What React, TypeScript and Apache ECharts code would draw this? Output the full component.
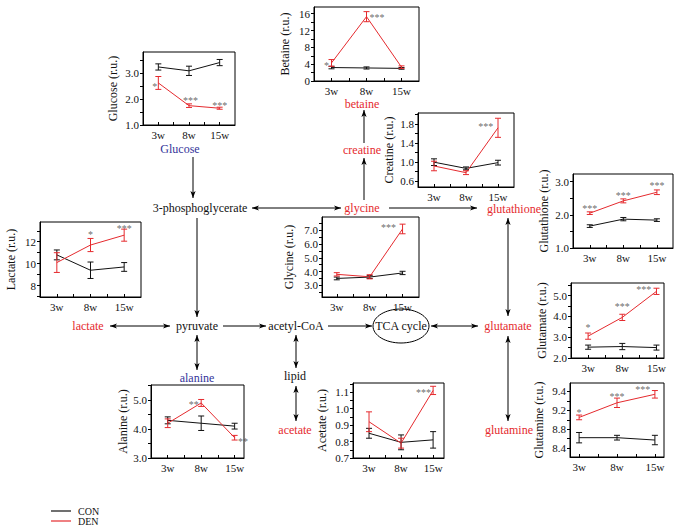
import { useEffect, useRef } from "react";
import * as echarts from "echarts";

const weeks = ["3w", "8w", "15w"];

// Glucose
const glucoseCon = [3.25, 3.1, 3.42];
const glucoseConErr = [0.12, 0.18, 0.12];
const glucoseDen = [2.63, 1.75, 1.65];
const glucoseDenErr = [0.25, 0.07, 0.04];
const glucoseStars: [number, number, string][] = [[-0.12, 2.62, "*"], [1.05, 2.05, "***"], [2.0, 1.88, "***"]];
const glucoseTicks = [1.0, 2.0, 3.0];
const glucoseTickLabels = ["1.0", "2.0", "3.0"];

// Betaine
const betaineCon = [3.2, 3.1, 3.0];
const betaineConErr = [0.3, 0.25, 0.2];
const betaineDen = [4.3, 15.3, 3.3];
const betaineDenErr = [0.8, 1.2, 0.3];
const betaineStars: [number, number, string][] = [[-0.14, 4.4, "*"], [1.3, 15.9, "***"]];
const betaineTicks = [0, 4, 8, 12, 16];
const betaineTickLabels = ["0", "4", "8", "12", "16"];

// Creatine
const creatineCon = [1.0, 0.87, 0.99];
const creatineConErr = [0.07, 0.03, 0.05];
const creatineDen = [0.92, 0.78, 1.72];
const creatineDenErr = [0.1, 0.04, 0.2];
const creatineStars: [number, number, string][] = [[1.62, 1.8, "***"]];
const creatineTicks = [0.6, 1.0, 1.4, 1.8];
const creatineTickLabels = ["0.6", "1.0", "1.4", "1.8"];

// Glutathione
const glutathioneCon = [1.66, 1.87, 1.84];
const glutathioneConErr = [0.04, 0.05, 0.04];
const glutathioneDen = [2.05, 2.42, 2.68];
const glutathioneDenErr = [0.04, 0.06, 0.07];
const glutathioneStars: [number, number, string][] = [[0, 2.28, "***"], [1, 2.68, "***"], [2, 2.96, "***"]];
const glutathioneTicks = [1.0, 2.0, 3.0];
const glutathioneTickLabels = ["1.0", "2.0", "3.0"];

// Lactate
const lactateCon = [10.8, 9.4, 9.7];
const lactateConErr = [0.45, 0.75, 0.4];
const lactateDen = [10.1, 11.7, 12.6];
const lactateDenErr = [0.9, 0.6, 0.55];
const lactateStars: [number, number, string][] = [[1, 12.9, "*"], [2, 13.45, "***"]];
const lactateTicks = [8, 10, 12];
const lactateTickLabels = ["8", "10", "12"];

// Glycine
const glycineCon = [3.5, 3.6, 3.9];
const glycineConErr = [0.1, 0.1, 0.12];
const glycineDen = [3.8, 3.62, 7.1];
const glycineDenErr = [0.12, 0.15, 0.35];
const glycineStars: [number, number, string][] = [[1.57, 7.4, "***"]];
const glycineTicks = [3.0, 4.0, 5.0, 6.0, 7.0];
const glycineTickLabels = ["3.0", "4.0", "5.0", "6.0", "7.0"];

// Glutamate
const glutamateCon = [2.52, 2.55, 2.5];
const glutamateConErr = [0.1, 0.15, 0.12];
const glutamateDen = [3.05, 3.95, 5.2];
const glutamateDenErr = [0.15, 0.15, 0.15];
const glutamateStars: [number, number, string][] = [[0, 3.62, "*"], [1, 4.62, "***"], [1.63, 5.42, "***"]];
const glutamateTicks = [2.0, 3.0, 4.0, 5.0];
const glutamateTickLabels = ["2.0", "3.0", "4.0", "5.0"];

// Glutamine
const glutamineCon = [8.62, 8.62, 8.57];
const glutamineConErr = [0.11, 0.05, 0.1];
const glutamineDen = [9.05, 9.36, 9.54];
const glutamineDenErr = [0.05, 0.1, 0.08];
const glutamineStars: [number, number, string][] = [[0, 9.22, "*"], [1, 9.56, "***"], [1.68, 9.7, "***"]];
const glutamineTicks = [8.4, 8.8, 9.2, 9.6];
const glutamineTickLabels = ["8.4", "8.8", "9.2", "9.4"];

// Alanine
const alanineCon = [4.3, 4.2, 4.1];
const alanineConErr = [0.12, 0.25, 0.1];
const alanineDen = [4.2, 4.9, 3.7];
const alanineDenErr = [0.15, 0.12, 0.08];
const alanineStars: [number, number, string][] = [[0.78, 4.95, "**"], [2.25, 3.68, "**"]];
const alanineTicks = [3.0, 4.0, 5.0];
const alanineTickLabels = ["3.0", "4.0", "5.0"];

// Acetate
const acetateCon = [0.85, 0.795, 0.81];
const acetateConErr = [0.03, 0.045, 0.05];
const acetateDen = [0.92, 0.79, 1.11];
const acetateDenErr = [0.06, 0.03, 0.025];
const acetateStars: [number, number, string][] = [[1.7, 1.115, "***"]];
const acetateTicks = [0.7, 0.8, 0.9, 1.0, 1.1];
const acetateTickLabels = ["0.7", "0.8", "0.9", "1.0", "1.1"];

const legendNames = ["CON", "DEN"];

const FONT = '"Liberation Serif", "Times New Roman", serif';
const RED = "#e52a2e";
const BLUE = "#34349a";
const BLACK = "#111";

type Spec = {
  name: string;
  con: number[]; conErr: number[]; den: number[]; denErr: number[];
  stars: [number, number, string][];
  ticks: number[]; tickLabels: string[];
  box: [number, number, number, number];
  xr: [number, number];
  yr: [number, number];
  gap: number;
};

const specs: Spec[] = [
  { name: "Glucose (r.u.)", con: glucoseCon, conErr: glucoseConErr, den: glucoseDen, denErr: glucoseDenErr, stars: glucoseStars, ticks: glucoseTicks, tickLabels: glucoseTickLabels, box: [143, 52, 235, 125], xr: [-0.5, 2.5], yr: [1.0, 3.83], gap: 24 },
  { name: "Betaine (r.u.)", con: betaineCon, conErr: betaineConErr, den: betaineDen, denErr: betaineDenErr, stars: betaineStars, ticks: betaineTicks, tickLabels: betaineTickLabels, box: [314, 7, 419, 81], xr: [-0.5, 2.5], yr: [0, 17.6], gap: 23 },
  { name: "Creatine (r.u.)", con: creatineCon, conErr: creatineConErr, den: creatineDen, denErr: creatineDenErr, stars: creatineStars, ticks: creatineTicks, tickLabels: creatineTickLabels, box: [418, 113, 514, 187], xr: [-0.5, 2.5], yr: [0.48, 2.03], gap: 23 },
  { name: "Glutathione (r.u.)", con: glutathioneCon, conErr: glutathioneConErr, den: glutathioneDen, denErr: glutathioneDenErr, stars: glutathioneStars, ticks: glutathioneTicks, tickLabels: glutathioneTickLabels, box: [573, 174, 673, 248], xr: [-0.5, 2.48], yr: [1.0, 3.23], gap: 23 },
  { name: "Lactate (r.u.)", con: lactateCon, conErr: lactateConErr, den: lactateDen, denErr: lactateDenErr, stars: lactateStars, ticks: lactateTicks, tickLabels: lactateTickLabels, box: [40, 222, 141, 297], xr: [-0.5, 2.5], yr: [6.96, 13.8], gap: 23 },
  { name: "Glycine (r.u.)", con: glycineCon, conErr: glycineConErr, den: glycineDen, denErr: glycineDenErr, stars: glycineStars, ticks: glycineTicks, tickLabels: glycineTickLabels, box: [322, 217, 419, 297], xr: [-0.45, 2.5], yr: [2.15, 7.97], gap: 27 },
  { name: "Glutamate (r.u.)", con: glutamateCon, conErr: glutamateConErr, den: glutamateDen, denErr: glutamateDenErr, stars: glutamateStars, ticks: glutamateTicks, tickLabels: glutamateTickLabels, box: [571, 283, 664, 358], xr: [-0.5, 2.22], yr: [2.0, 5.6], gap: 23 },
  { name: "Glutamine (r.u.)", con: glutamineCon, conErr: glutamineConErr, den: glutamineDen, denErr: glutamineDenErr, stars: glutamineStars, ticks: glutamineTicks, tickLabels: glutamineTickLabels, box: [570, 383, 664, 457], xr: [-0.24, 2.24], yr: [8.21, 9.78], gap: 25 },
  { name: "Alanine (r.u.)", con: alanineCon, conErr: alanineConErr, den: alanineDen, denErr: alanineDenErr, stars: alanineStars, ticks: alanineTicks, tickLabels: alanineTickLabels, box: [151, 385, 244, 458], xr: [-0.5, 2.28], yr: [3.0, 5.52], gap: 22 },
  { name: "Acetate (r.u.)", con: acetateCon, conErr: acetateConErr, den: acetateDen, denErr: acetateDenErr, stars: acetateStars, ticks: acetateTicks, tickLabels: acetateTickLabels, box: [353, 383, 444, 458], xr: [-0.5, 2.34], yr: [0.7, 1.155], gap: 25 },
];

function minorTicks(ticks: number[], yr: [number, number]) {
  const out: number[] = [...ticks];
  const step = ticks[1] - ticks[0];
  for (let i = -1; i < ticks.length; i++) {
    const m = ticks[0] + step * (i + 0.5);
    if (m > yr[0] && m < yr[1]) out.push(m);
  }
  return out;
}

function arrowHead(x: number, y: number, dx: number, dy: number) {
  const len = Math.hypot(dx, dy);
  const ux = dx / len, uy = dy / len;
  const px = -uy, py = ux;
  const L = 7, W = 2.6;
  return {
    type: "polygon",
    silent: true,
    shape: {
      points: [
        [x, y],
        [x - ux * L + px * W, y - uy * L + py * W],
        [x - ux * L * 0.75, y - uy * L * 0.75],
        [x - ux * L - px * W, y - uy * L - py * W],
      ],
    },
    style: { fill: "#000" },
  };
}

function arrow(x1: number, y1: number, x2: number, y2: number, both = false) {
  const els: any[] = [
    { type: "line", silent: true, shape: { x1, y1, x2, y2 }, style: { stroke: "#000", lineWidth: 1 } },
    arrowHead(x2, y2, x2 - x1, y2 - y1),
  ];
  if (both) els.push(arrowHead(x1, y1, x1 - x2, y1 - y2));
  return els;
}

function label(text: string, x: number, y: number, color = "#111", size = 12, align = "center") {
  return {
    type: "text",
    silent: true,
    x,
    y,
    style: {
      text,
      fill: color,
      font: `${size}px ${FONT}`,
      textAlign: align,
      textVerticalAlign: "middle",
      align,
      verticalAlign: "middle",
    },
  };
}

function errorSeries(i: number, mean: number[], err: number[], color: string, name: string) {
  return {
    type: "custom",
    name,
    xAxisIndex: i,
    yAxisIndex: i,
    silent: true,
    z: 4,
    data: mean.map((m, k) => [k, m - err[k], m + err[k]]),
    encode: { x: 0, y: [1, 2] },
    renderItem: (params: any, api: any) => {
      const x = api.value(0);
      const p1 = api.coord([x, api.value(1)]);
      const p2 = api.coord([x, api.value(2)]);
      const w = 3;
      const st = { stroke: color, lineWidth: 1 };
      return {
        type: "group",
        children: [
          { type: "line", shape: { x1: p1[0], y1: p1[1], x2: p2[0], y2: p2[1] }, style: st },
          { type: "line", shape: { x1: p1[0] - w, y1: p1[1], x2: p1[0] + w, y2: p1[1] }, style: st },
          { type: "line", shape: { x1: p2[0] - w, y1: p2[1], x2: p2[0] + w, y2: p2[1] }, style: st },
        ],
      };
    },
  };
}

export default function App() {
  const ref = useRef<HTMLDivElement>(null);
  useEffect(() => {
    const chart = echarts.init(ref.current!, undefined, { renderer: "svg" });
    const grids: any[] = [];
    const xAxes: any[] = [];
    const yAxes: any[] = [];
    const series: any[] = [];

    specs.forEach((s, i) => {
      const [L, T, R, B] = s.box;
      grids.push({ left: L, top: T, width: R - L, height: B - T, show: true, borderColor: "#000", borderWidth: 1, backgroundColor: "transparent", containLabel: false });
      xAxes.push({
        gridIndex: i,
        type: "value",
        min: s.xr[0],
        max: s.xr[1],
        splitLine: { show: false },
        axisLine: { onZero: false, lineStyle: { color: "#000", width: 1 } },
        axisTick: { customValues: [0, 0.5, 1, 1.5, 2], length: 3, inside: true, lineStyle: { color: "#000" } },
        axisLabel: {
          customValues: [0, 1, 2],
          formatter: (v: number) => weeks[Math.round(v)] ?? "",
          fontFamily: FONT,
          fontSize: 11,
          color: "#111",
          margin: 4,
        },
      });
      yAxes.push({
        gridIndex: i,
        type: "value",
        min: s.yr[0],
        max: s.yr[1],
        name: s.name,
        nameLocation: "middle",
        nameGap: s.gap,
        nameRotate: 90,
        nameTextStyle: { fontFamily: FONT, fontSize: 12, color: "#111" },
        splitLine: { show: false },
        axisLine: { onZero: false, lineStyle: { color: "#000", width: 1 } },
        axisTick: { customValues: minorTicks(s.ticks, s.yr), length: 3, inside: false, lineStyle: { color: "#000" } },
        axisLabel: {
          customValues: s.ticks,
          formatter: (v: number) => {
            const k = s.ticks.findIndex((t) => Math.abs(t - v) < 1e-6);
            return k >= 0 ? s.tickLabels[k] : "";
          },
          fontFamily: FONT,
          fontSize: 11,
          color: "#111",
          margin: 4,
        },
      });
      series.push({
        type: "line", name: legendNames[0], xAxisIndex: i, yAxisIndex: i, symbol: "none", silent: true, z: 3,
        data: s.con.map((v, k) => [k, v]),
        lineStyle: { color: BLACK, width: 1 }, itemStyle: { color: BLACK },
      });
      series.push({
        type: "line", name: legendNames[1], xAxisIndex: i, yAxisIndex: i, symbol: "none", silent: true, z: 3,
        data: s.den.map((v, k) => [k, v]),
        lineStyle: { color: RED, width: 1 }, itemStyle: { color: RED },
      });
      series.push(errorSeries(i, s.con, s.conErr, BLACK, "conErr"));
      series.push(errorSeries(i, s.den, s.denErr, RED, "denErr"));
      series.push({
        type: "scatter", name: "stars", xAxisIndex: i, yAxisIndex: i, silent: true, z: 5,
        symbol: "circle", symbolSize: 1, itemStyle: { color: "rgba(0,0,0,0)" },
        data: s.stars.map((st) => [st[0], st[1]]),
        label: {
          show: true, position: "inside",
          formatter: (p: any) => s.stars[p.dataIndex][2],
          fontFamily: FONT, fontSize: 10, color: "#444", offset: [0, 3],
        },
      });
    });

    const graphic: any[] = [
      label("Glucose", 180, 149, BLUE),
      label("3-phosphoglycerate", 200, 208),
      label("glycine", 362, 208, RED),
      label("creatine", 362, 150, RED),
      label("betaine", 362, 104, RED),
      label("glutathione", 514, 209, RED),
      label("lactate", 88, 326, RED),
      label("pyruvate", 197, 326),
      label("acetyl-CoA", 296, 326),
      label("TCA cycle", 401, 326),
      label("glutamate", 508, 326, RED),
      label("alanine", 197, 378, BLUE),
      label("lipid", 295, 376),
      label("acetate", 295, 430, RED),
      label("glutamine", 509, 430, RED),
      { type: "ellipse", silent: true, shape: { cx: 401, cy: 326, rx: 28, ry: 17 }, style: { fill: "none", stroke: "#000", lineWidth: 1 } },
      ...arrow(193, 157, 193, 198),
      ...arrow(252, 208, 341, 208, true),
      ...arrow(389, 208, 477, 208),
      ...arrow(364, 200, 364, 158),
      ...arrow(364, 143, 364, 110),
      ...arrow(197, 218, 197, 317),
      ...arrow(110, 326, 170, 326, true),
      ...arrow(223, 326, 266, 326),
      ...arrow(328, 326, 372, 326),
      ...arrow(431, 326, 478, 326, true),
      ...arrow(508, 218, 508, 316, true),
      ...arrow(508, 336, 508, 421, true),
      ...arrow(197, 335, 197, 370, true),
      ...arrow(296, 335, 296, 368, true),
      ...arrow(296, 386, 296, 421, true),
      // legend
      { type: "line", silent: true, shape: { x1: 51, y1: 511, x2: 71, y2: 511 }, style: { stroke: BLACK, lineWidth: 1.2 } },
      { type: "line", silent: true, shape: { x1: 51, y1: 521, x2: 71, y2: 521 }, style: { stroke: RED, lineWidth: 1.2 } },
      label(legendNames[0], 78, 511, "#111", 10, "left"),
      label(legendNames[1], 78, 521, "#111", 10, "left"),
    ];

    chart.setOption({
      animation: false,
      backgroundColor: "#fff",
      grid: grids,
      xAxis: xAxes,
      yAxis: yAxes,
      series,
      graphic,
    });
    return () => chart.dispose();
  }, []);
  return <div ref={ref} style={{ position: "absolute", left: 0, top: 0, width: 674, height: 528 }} />;
}
